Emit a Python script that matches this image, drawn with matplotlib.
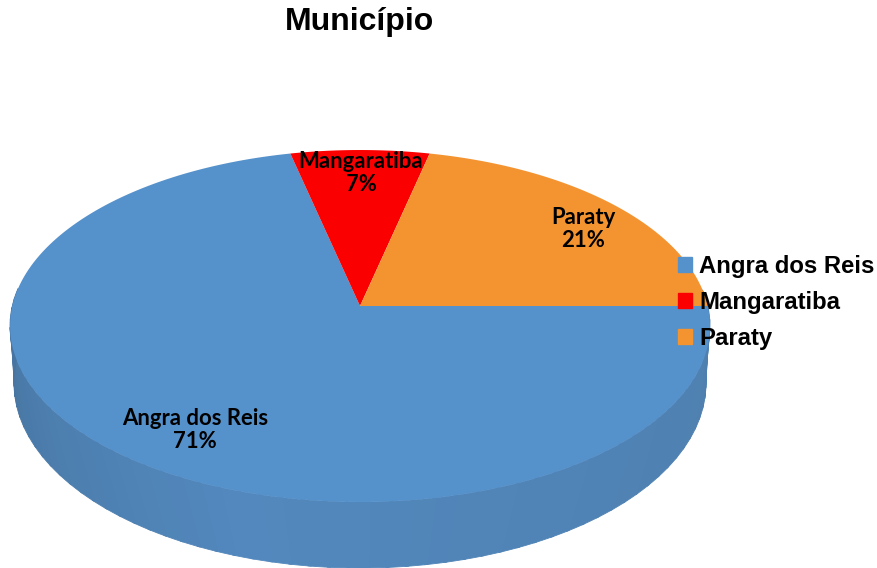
import numpy as np
import matplotlib
matplotlib.use("Agg")
import matplotlib.pyplot as plt
from matplotlib.patches import Patch
from matplotlib.colors import to_rgb

categories = ["Angra dos Reis", "Mangaratiba", "Paraty"]
values = [10, 1, 3]
colors = ["#5591cb", "#fa0000", "#f49431"]

# pixel layout of the tilted pie
cx, cy = 360, 306
a, b, p = 347.7, 173.7, 0.1136


def project(theta):
    # theta clockwise from north, perspective squashes the back of the disc
    u, v = np.sin(theta), np.cos(theta)
    k = 1 + p * v
    return cx + a * u / k, cy - b * v / k


fig = plt.figure(figsize=(8.78, 5.68), dpi=100)
ax = fig.add_axes((0, 0, 1, 1))
ax.set_xlim(0, 878)
ax.set_ylim(568, 0)
ax.axis("off")

# side wall, strips from right to left along the front
left_c, mid_c, right_c = to_rgb("#47749f"), to_rgb("#5288bd"), to_rgb("#4e7fae")
edges = np.linspace(0.47 * np.pi, 1.53 * np.pi, 60)
for t0, t1 in zip(edges[:-1], edges[1:]):
    tm = (t0 + t1) / 2
    f = (tm - 0.47 * np.pi) / (1.06 * np.pi)
    if f < 0.6:
        c = np.array(right_c) + (np.array(mid_c) - right_c) * (f / 0.6)
    else:
        c = np.array(mid_c) + (np.array(left_c) - mid_c) * ((f - 0.6) / 0.4)
    ts = np.linspace(t0, t1 + 0.01, 5)
    xt, yt = project(ts)
    # rim of the bottom ellipse
    xb = 360 + 346 * np.sin(ts)
    yb = 383 - 185 * np.cos(ts)
    ax.fill(np.r_[xt, xb[::-1]], np.r_[yt, yb[::-1]], color=c, lw=0.6)

# top of the pie, starts east and goes clockwise
share = np.array(values) / sum(values)
starts = np.pi / 2 + 2 * np.pi * np.r_[0, np.cumsum(share)[:-1]]
for st, sh, col in zip(starts, share, colors):
    ts = np.linspace(st, st + 2 * np.pi * sh, 200)
    xs, ys = project(ts)
    ax.fill(np.r_[cx, xs], np.r_[cy, ys], color=col, lw=0)

# data labels
label_pos = [(195, 430), (361, 173), (583, 229)]
for name, sh, (lx, ly) in zip(categories, share, label_pos):
    ax.text(lx, ly, f"{name}\n{sh:.0%}", ha="center", va="center", family="Lato",
            weight="bold", fontsize=15.9, linespacing=1.16, color="black")

ax.text(359.5, 22, "Município", ha="center", va="center", family="Liberation Sans",
        weight="bold", fontsize=23, color="black")

handles = [Patch(color=c, label=n) for n, c in zip(categories, colors)]
ax.legend(handles=handles, loc="upper left", bbox_to_anchor=(678 / 878, 1 - 255 / 568),
          frameon=False, prop={"family": "Liberation Sans", "weight": "bold", "size": 17.2},
          handlelength=0.6, handleheight=0.6, handletextpad=0.3, labelspacing=0.54,
          borderpad=0, borderaxespad=0)

fig.savefig("out.png", dpi=100)
